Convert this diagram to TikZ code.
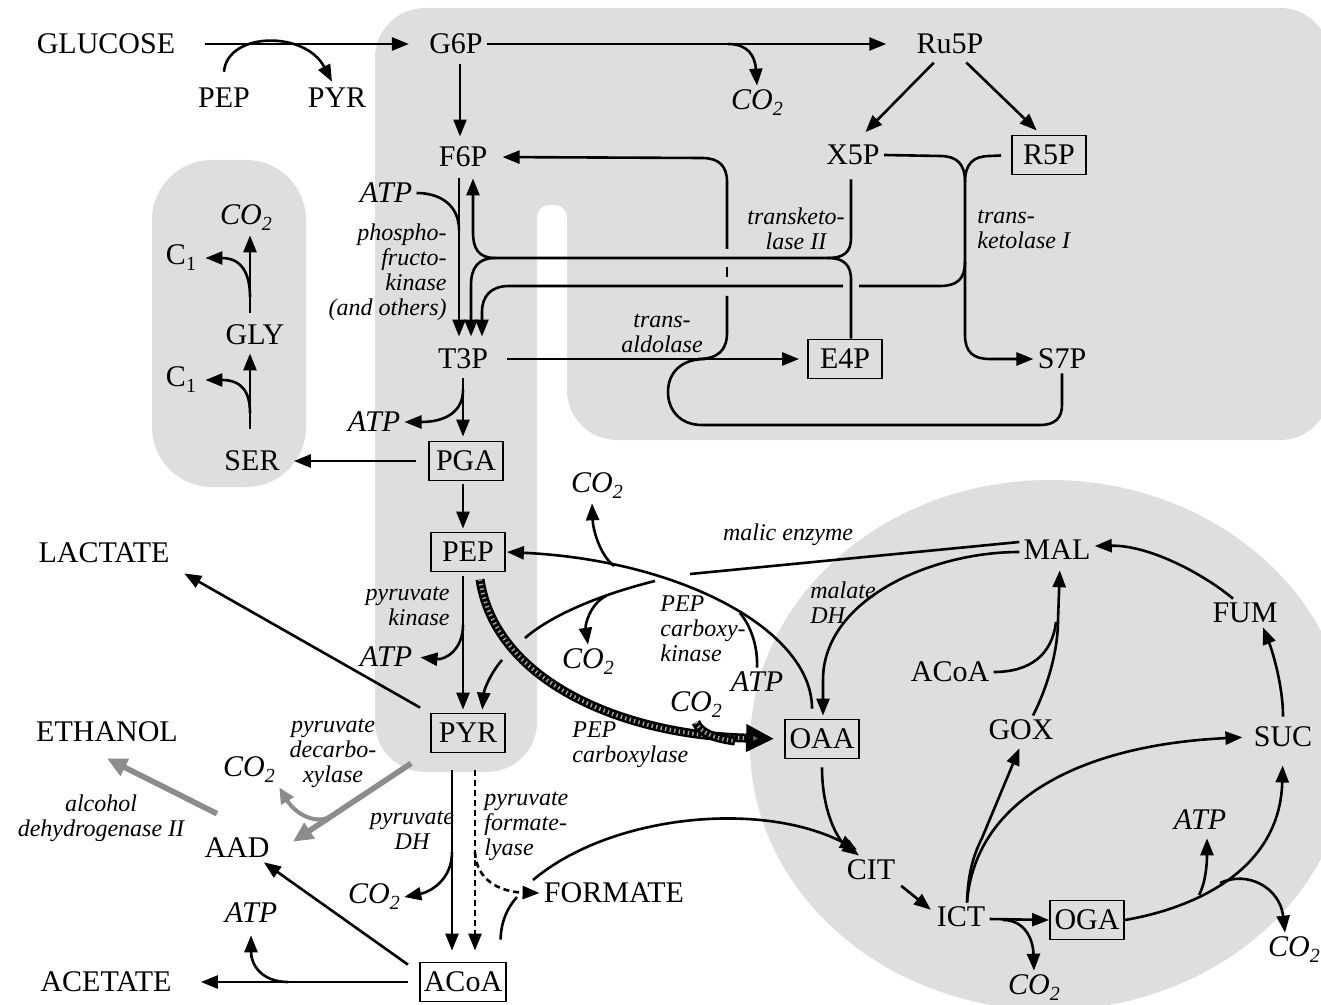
\documentclass[tikz,border=0pt]{standalone}
\usepackage{fontspec}
\setmainfont{Liberation Serif}
\usetikzlibrary{arrows.meta}
\newcommand\cotwo{CO\raisebox{-3pt}{\fontsize{10}{10}\selectfont 2}}
\newcommand\cone{C\raisebox{-3pt}{\fontsize{10}{10}\selectfont 1}}
\begin{document}
\begin{tikzpicture}[x=0.5pt,y=-0.5pt,
  met/.style={font=\fontsize{15}{17}\selectfont, inner sep=2pt},
  box/.style={font=\fontsize{15}{17}\selectfont, draw, line width=0.9pt, minimum width=37pt, minimum height=19.5pt, inner xsep=2pt, inner ysep=2pt},
  cof/.style={font=\itshape\fontsize{15}{17}\selectfont, inner sep=2pt},
  enz/.style={font=\itshape\fontsize{12}{12.5}\selectfont, inner sep=0pt},
  ln/.style={line width=1.3pt},
  arr/.style={line width=1.3pt, -{Triangle[length=8.5pt,width=6.5pt]}},
  dsh/.style={dash pattern=on 3pt off 2pt},
  grayarr/.style={line width=2.8pt, draw=black!45, -{Triangle[length=10pt,width=9pt]}},
  grayarrthin/.style={line width=2pt, draw=black!45, -{Triangle[length=8pt,width=7pt]}},
  hatch/.style={line width=4.5pt, draw=black, -{Triangle[length=14pt,width=13pt,fill=black!60]},
     postaction={draw=black!35, line width=2pt, dash pattern=on 0.7pt off 1.6pt, arrows=-, shorten >=19pt}},
  hatchln/.style={line width=4.5pt, draw=black,
     postaction={draw=black!35, line width=2pt, dash pattern=on 0.7pt off 1.6pt}},
  shade/.style={fill=black!13}
]
\useasboundingbox (0,0) rectangle (1321,1005);
\fill[white] (0,0) rectangle (1321,1005);
% ---------- shaded regions ----------
\fill[shade, rounded corners=25] (375,8) -- (1330,8) -- (1330,440) -- (567,440) [rounded corners=6] -- (567,205) -- (537,205) [rounded corners=25] -- (537,772) -- (375,772) -- cycle;
\fill[shade, rounded corners=30] (152,160) rectangle (306,487);
\fill[shade] (1050,745) ellipse [x radius=150pt, y radius=132.5pt];
% ---------- nodes ----------
\node[met] (glucose) at (106,44) {GLUCOSE};
\node[met] (g6p) at (456,44) {G6P};
\node[met] (pepT) at (224,98) {PEP};
\node[met] (pyrT) at (337,98) {PYR};
\node[met] (ru5p) at (950,44) {Ru5P};
\node[cof] (co2a) at (757,103) {\cotwo};
\node[met] (f6p) at (463,157) {F6P};
\node[met] (x5p) at (853,155) {X5P};
\node[box] (r5p) at (1049,155) {R5P};
\node[cof] (atp1) at (386,193) {ATP};
\node[enz, align=right, anchor=east] (pfk) at (447,272) {phospho-\\fructo-\\kinase\\(and others)};
\node[enz, align=center] (tk2) at (796,229) {transketo-\\lase II};
\node[enz, align=left, anchor=west] (tk1) at (977,229) {trans-\\ketolase I};
\node[enz, align=center] (tal) at (662,333) {trans-\\aldolase};
\node[met] (t3p) at (463,359) {T3P};
\node[box] (e4p) at (845,359) {E4P};
\node[met] (s7p) at (1062,359) {S7P};
\node[cof] (atp2) at (374,422) {ATP};
\node[box] (pga) at (466,461) {PGA};
\node[met] (ser) at (252,461) {SER};
\node[met] (gly) at (255,335) {GLY};
\node[met] (c1a) at (181,258) {\cone};
\node[met] (c1b) at (181,380) {\cone};
\node[cof] (co2b) at (246,218) {\cotwo};
\node[met] (lactate) at (104,553) {LACTATE};
\node[box] (pep) at (468,552) {PEP};
\node[cof] (co2c) at (597,486) {\cotwo};
\node[enz] (me) at (788,535) {malic enzyme};
\node[met] (mal) at (1057,550) {MAL};
\node[enz, align=left, anchor=west] (mdh) at (810,603) {malate\\DH};
\node[enz, align=left, anchor=west] (pck) at (660,629) {PEP\\carboxy-\\kinase};
\node[cof] (co2d) at (588,662) {\cotwo};
\node[cof] (atp3) at (757,682) {ATP};
\node[met] (acoa2) at (950,672) {ACoA};
\node[met] (fum) at (1245,613) {FUM};
\node[enz, align=right, anchor=east] (pk) at (450,606) {pyruvate\\kinase};
\node[cof] (atp4) at (386,657) {ATP};
\node[box] (pyr) at (468,733) {PYR};
\node[cof] (co2e) at (696,705) {\cotwo};
\node[enz, align=left, anchor=west] (ppc) at (572,745) {PEP\\carboxylase};
\node[box] (oaa) at (822,739) {OAA};
\node[met] (gox) at (1021,730) {GOX};
\node[met] (suc) at (1283,737) {SUC};
\node[met] (ethanol) at (107,732) {ETHANOL};
\node[enz, align=center] (pdc) at (333,753) {pyruvate\\decarbo-\\xylase};
\node[cof] (co2f) at (249,770) {\cotwo};
\node[enz, align=center] (adh) at (101,818) {alcohol\\dehydrogenase II};
\node[met] (aad) at (237,848) {AAD};
\node[enz, align=center] (pdh) at (412,830) {pyruvate\\DH};
\node[enz, align=left, anchor=west] (pfl) at (484,826) {pyruvate\\formate-\\lyase};
\node[cof] (co2g) at (374,897) {\cotwo};
\node[met] (formate) at (614,893) {FORMATE};
\node[cof] (atp5) at (251,913) {ATP};
\node[met] (acetate) at (106,982) {ACETATE};
\node[box] (acoa) at (463,982) {ACoA};
\node[met] (cit) at (871,870) {CIT};
\node[met] (ict) at (961,917) {ICT};
\node[box] (oga) at (1087,920) {OGA};
\node[cof] (atp6) at (1200,820) {ATP};
\node[cof] (co2h) at (1294,950) {\cotwo};
\node[cof] (co2i) at (1034,988) {\cotwo};
% ---------- uptake ----------
\draw[arr, shorten <=12.5pt, shorten >=8pt] (glucose.east) -- (g6p.west);
\draw[arr] ([yshift=6pt]pepT.north) .. controls (227,32) and (305,30) .. ([xshift=-2.5pt,yshift=1pt]pyrT.north);
% ---------- pentose phosphate ----------
\draw[arr, shorten >=13pt] (g6p.east) -- (ru5p.west);
\coordinate (jco2a) at (728,44);
\draw[arr] (jco2a) .. controls (748,44) and (755,56) .. (co2a.north);
\draw[arr, shorten <=3pt, shorten >=6pt] ([xshift=-6pt]ru5p.south) -- ([xshift=2pt]x5p.north);
\draw[arr, shorten <=3pt, shorten >=3pt] ([xshift=6pt]ru5p.south) -- ([xshift=-4pt]r5p.north);
% ---------- glycolysis upper ----------
\draw[arr, shorten <=3pt, shorten >=3pt] ([xshift=2pt]g6p.south) -- ([xshift=-1.5pt]f6p.north);
\draw[arr, shorten <=3.5pt, shorten >=4pt] ([xshift=-2pt]f6p.south) -- ([xshift=-2pt]t3p.north);
\draw[ln] (atp1.east) .. controls (440,193) and (459,205) .. (459,230);
% transketolase II
\draw[ln, shorten <=5pt] ([xshift=-1pt]x5p.south) -- (851,238) .. controls (851,252) and (844,258) .. (828,258) -- (495,258);
\draw[ln] ([xshift=3pt]e4p.north) -- (851,280) .. controls (851,265) and (844,258) .. (828,258);
\draw[arr, shorten >=3.5pt] (495,258) .. controls (478,258) and (473,248) .. (473,232) -- ([xshift=5pt]f6p.south);
\draw[arr, shorten >=4pt] (495,258) .. controls (478,258) and (471,268) .. (471,285) -- ([xshift=4pt]t3p.north);
% transketolase I
\draw[arr] (x5p.east) -- (940,156) .. controls (957,156) and (965,164) .. (965,182) -- (965,335) .. controls (965,352) and (973,359) .. (990,359) -- (s7p.west);
\draw[ln, shorten <=5pt] (r5p.west) -- (990,156) .. controls (973,156) and (965,164) .. (965,182);
\draw[ln] (965,262) .. controls (965,279) and (957,286) .. (940,286) -- (859,286);
\draw[arr, shorten >=4pt] (843,286) -- (509,286) .. controls (491,286) and (482,296) .. (482,312) -- ([xshift=9.5pt]t3p.north);
% transaldolase
\draw[arr, shorten <=7.5pt, shorten >=4pt] (t3p.east) -- (e4p.west);
\draw[ln] (698,359) .. controls (718,359) and (727,350) .. (727,333) -- (727,296);
\draw[ln] (727,277) -- (727,267);
\draw[arr, shorten >=5.5pt] (727,249) -- (727,182) .. controls (727,166) and (719,158) .. (702,158) -- (f6p.east);
\draw[ln] (s7p.south) -- (1062,405) .. controls (1062,418) and (1055,425) .. (1040,425) -- (702,425) .. controls (680,425) and (668,410) .. (668,392) .. controls (668,372) and (682,359) .. (705,359);
% T3P -> PGA
\draw[arr, shorten <=2.5pt, shorten >=2pt] (t3p.south) -- ([xshift=-1.5pt]pga.north);
\draw[arr] (463,390) .. controls (463,412) and (445,422) .. (atp2.east);
% serine / glycine
\draw[arr, shorten <=6pt, shorten >=5pt] (pga.west) -- (ser.east);
\draw[arr, shorten <=9pt, shorten >=2pt] ([xshift=-1pt]ser.north) -- ([xshift=-2.5pt]gly.south);
\draw[arr, shorten >=2.5pt] (250,413) .. controls (250,392) and (242,380) .. (c1b.east);
\draw[arr, shorten <=4pt] ([xshift=-2.5pt]gly.north) -- ([xshift=2pt]co2b.south);
\draw[arr, shorten >=2.5pt] (250,297) .. controls (250,274) and (242,258) .. (c1a.east);
% PGA -> PEP -> PYR
\draw[arr, shorten <=1.5pt, shorten >=1.5pt] ([xshift=-1.5pt]pga.south) -- ([xshift=-2.5pt]pep.north);
\draw[arr, shorten <=2pt, shorten >=1.5pt] ([xshift=-2.5pt]pep.south) -- ([xshift=-2.5pt]pyr.north);
\draw[arr, shorten >=2pt] (463,625) .. controls (463,650) and (445,660) .. (atp4.east);
% lactate
\draw[arr, shorten >=6pt] ([xshift=-5pt,yshift=2.5pt]pyr.north west) -- (lactate.south east);
% PEP carboxylase
\draw[hatch, shorten >=5pt] ([xshift=6pt,yshift=-3.5pt]pep.south) .. controls (495,680) and (620,735) .. (oaa.west);
\draw[hatchln] (co2e.south) .. controls (700,732) and (712,738) .. (735,741);
% PEP carboxykinase
\draw[arr, shorten >=0.5pt] ([xshift=-5pt,yshift=5pt]oaa.north) .. controls (812,630) and (680,560) .. (pep.east);
\draw[arr] (614,566) .. controls (600,555) and (593,530) .. ([xshift=-2.5pt]co2c.south);
\draw[ln] (atp3.north) .. controls (758,645) and (750,625) .. (740,613);
% malic enzyme
\draw[ln] ([yshift=4pt]mal.west) -- (690,574);
\draw[ln] (655,581) .. controls (610,592) and (555,612) .. (525,638);
\draw[arr, shorten >=1.5pt] (502,660) .. controls (490,674) and (484,690) .. ([xshift=7pt]pyr.north);
\draw[arr] (606,596) .. controls (590,604) and (585,625) .. (co2d.north);
% malate DH
\draw[arr, shorten >=1.5pt] ([yshift=-1pt]mal.west) .. controls (930,552) and (823,600) .. (823,680) -- ([xshift=0.5pt]oaa.north);
% TCA
\draw[arr] ([xshift=-6pt]fum.north) .. controls (1205,575) and (1150,545) .. ([yshift=2pt]mal.east);
\draw[arr, shorten <=3pt] (suc.north) .. controls (1283,685) and (1272,650) .. ([xshift=9pt]fum.south);
\draw[ln] (acoa2.east) .. controls (1030,672) and (1052,655) .. (1056,622);
\draw[arr, shorten >=3pt] ([xshift=6pt]gox.north) .. controls (1045,692) and (1058,655) .. (1058,620) -- ([xshift=1.5pt]mal.south);
\draw[arr, shorten >=2pt] ([xshift=3pt]ict.north) .. controls (968,870) and (975,852) .. (982,838) -- (gox.south);
\draw[arr, shorten >=3.5pt] ([xshift=3pt]ict.north) .. controls (975,800) and (1080,745) .. (suc.west);
\draw[arr] ([yshift=-4pt]oaa.south) .. controls (822,812) and (838,840) .. ([xshift=-6pt]cit.north);
\draw[ln, shorten <=11pt] ([xshift=18.5pt]acoa.north) .. controls (501,922) and (507,908) .. (517,897);
\draw[arr] (533,880) .. controls (610,815) and (760,800) .. ([xshift=-7pt,yshift=3pt]cit.north);
\draw[arr, shorten <=1pt, shorten >=1pt] (cit.south east) -- ([yshift=3pt]ict.west);
\draw[arr] ([yshift=-1pt]ict.east) -- (oga.west);
\draw[arr] (1003,920) .. controls (1024,920) and (1033,938) .. (co2i.north);
\draw[arr, shorten >=7pt] (oga.east) .. controls (1195,908) and (1280,870) .. (suc.south);
\draw[arr, shorten >=2pt] (1199,895) .. controls (1206,882) and (1207,862) .. ([xshift=3.5pt]atp6.south);
\draw[arr] (1220,883) .. controls (1248,870) and (1280,888) .. ([xshift=-4.5pt]co2h.north);
% fermentation
\draw[grayarr] ([xshift=-9.5pt,yshift=-5pt]pyr.south west) -- ([xshift=9.5pt,yshift=-4pt]aad.north east);
\draw[grayarrthin] (333,815) .. controls (318,826) and (296,815) .. (co2f.south east);
\draw[grayarr] ([xshift=-10pt,yshift=10pt]aad.north) -- ([yshift=-6pt]ethanol.south);
\draw[arr] ([xshift=-5.5pt,yshift=-1.5pt]acoa.north west) -- ([xshift=-5pt]aad.south east);
\draw[arr, shorten <=5.5pt, shorten >=12.5pt] (acoa.west) -- (acetate.east);
\draw[arr, shorten >=4pt] (288,982) .. controls (262,982) and (251,965) .. (atp5.south);
% PDH and PFL
\draw[arr, shorten <=8.5pt, shorten >=5.5pt] ([xshift=-8pt]pyr.south) -- ([xshift=-5.5pt]acoa.north);
\draw[arr] (452,852) .. controls (452,880) and (430,892) .. (co2g.east);
\draw[arr, dsh, shorten <=8.5pt, shorten >=5.5pt] ([xshift=3.5pt]pyr.south) -- ([xshift=6pt]acoa.north);
\draw[arr, dsh] (475,852) .. controls (476,880) and (500,892) .. (formate.west);
\end{tikzpicture}
\end{document}
